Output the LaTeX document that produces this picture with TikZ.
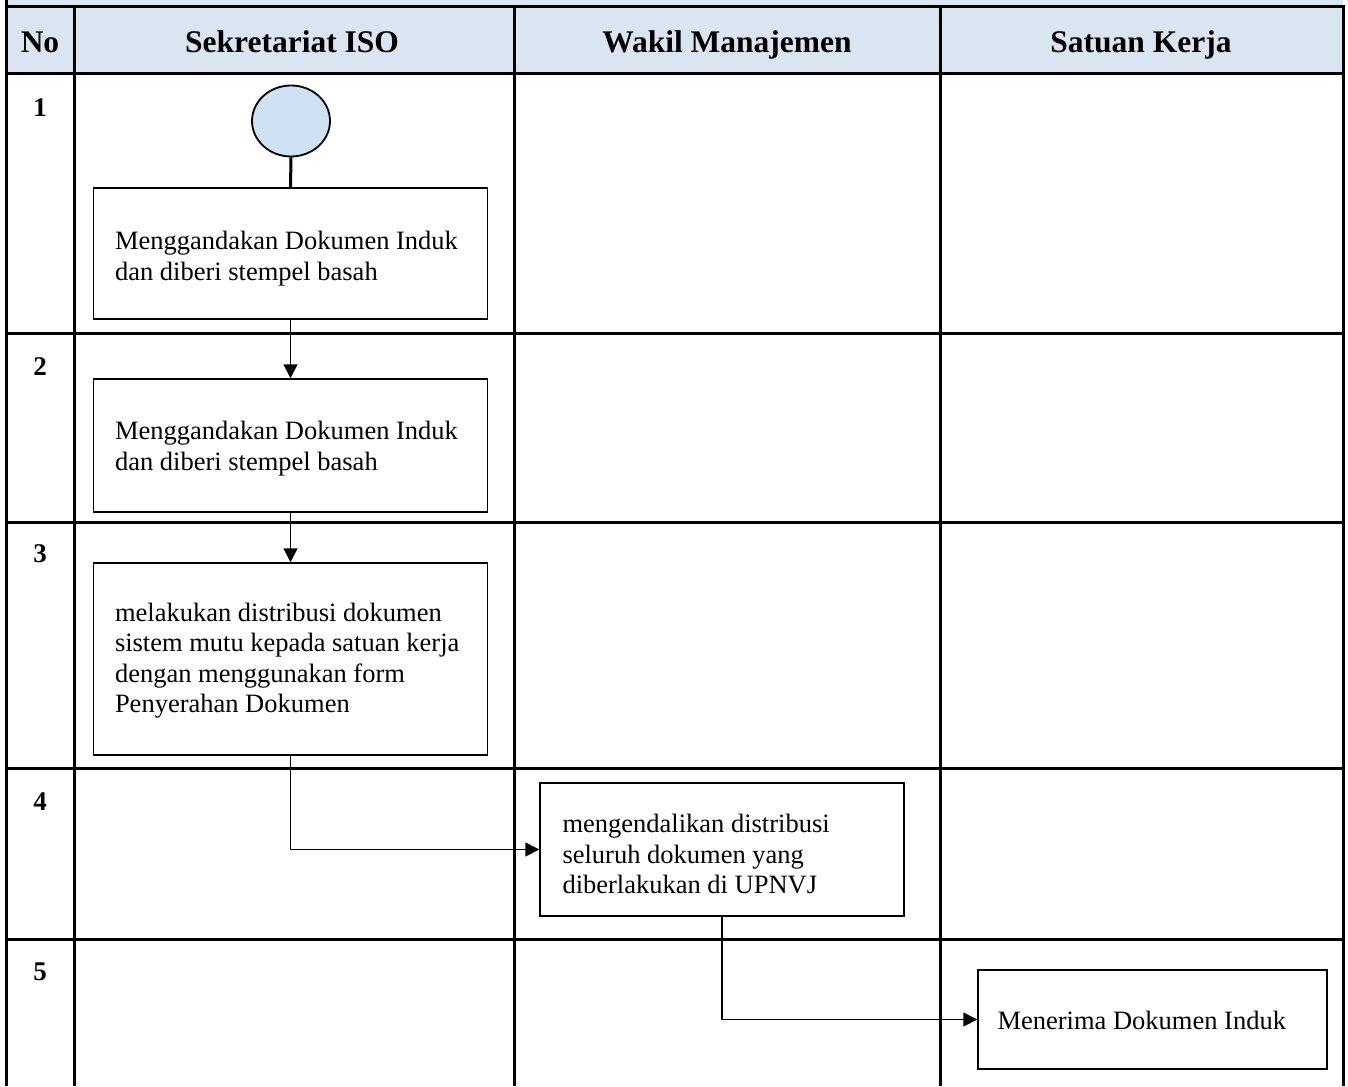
\documentclass[tikz,border=0pt]{standalone}
\usepackage{fontspec}
\setmainfont{Liberation Serif}
\usetikzlibrary{arrows.meta,shapes.geometric,calc}
\definecolor{headfill}{HTML}{DBE5F1}
\definecolor{startfill}{HTML}{CFE2F3}
\tikzset{
  grid/.style={line width=3pt},
  headtext/.style={font=\fontsize{31.5}{36}\selectfont\bfseries, anchor=base, inner sep=0pt},
  numtext/.style={font=\fontsize{27}{32}\selectfont\bfseries},
  stepbox/.style={draw, line width=1.4pt, rectangle, inner sep=0pt},
  boxtext/.style={anchor=west, inner sep=0pt, align=flush left,
    font=\fontsize{26.5}{30.5}\selectfont},
  startnode/.style={draw, ellipse, fill=startfill, line width=1.8pt,
    minimum width=78pt, minimum height=71pt, inner sep=0pt},
  flow/.style={line width=1.4pt, -{Triangle[length=14pt,width=14pt]}},
}
\begin{document}
\begin{tikzpicture}[x=1pt,y=-1pt]
\useasboundingbox (0,0) rectangle (1348,1086);
% header band
\fill[headfill] (6,0) rectangle (1343,74);
% table rules
\draw[grid] (4.5,7) -- (1344.5,7);
\foreach \y in {74,333,522,768,939}
  \draw[grid] (4.5,\y) -- (1344.5,\y);
\draw[grid] (6,0) -- (6,1086);
\draw[grid] (1343,7) -- (1343,1086);
\foreach \x in {74,514,940}
  \draw[grid] (\x,7) -- (\x,1086);
% header labels
\node[headtext] (hNo) at (40,53) {No};
\node[headtext] (hSek) at (292,53) {Sekretariat ISO};
\node[headtext] (hWak) at (727,53) {Wakil Manajemen};
\node[headtext] (hSat) at (1141,53) {Satuan Kerja};
% row numbers
\node[numtext] (n1) at (40,108) {1};
\node[numtext] (n2) at (40,367) {2};
\node[numtext] (n3) at (40,554) {3};
\node[numtext] (n4) at (40,802) {4};
\node[numtext] (n5) at (40,972) {5};
% process boxes
\node[startnode] (start) at (291,121) {};
\node[stepbox, minimum width=394pt, minimum height=131pt] (s1) at (290.5,253.5) {};
\node[stepbox, minimum width=394pt, minimum height=133pt] (s2) at (290.5,445.5) {};
\node[stepbox, minimum width=394pt, minimum height=192pt] (s3) at (290.5,659) {};
\node[stepbox, minimum width=364pt, minimum height=133pt] (s4) at (722,849.5) {};
\node[stepbox, minimum width=349pt, minimum height=99pt] (s5) at (1152.5,1019.5) {};
% box texts
\node[boxtext] (t1) at ($(s1.west)+(22,5)$) {Menggandakan Dokumen Induk\\dan diberi stempel basah};
\node[boxtext] (t2) at ($(s2.west)+(22,3)$) {Menggandakan Dokumen Induk\\dan diberi stempel basah};
\node[boxtext] (t3) at ($(s3.west)+(22,1.5)$) {melakukan distribusi dokumen\\sistem mutu kepada satuan kerja\\dengan menggunakan form\\Penyerahan Dokumen};
\node[boxtext] (t4) at ($(s4.west)+(23,4.5)$) {mengendalikan distribusi\\seluruh dokumen yang\\diberlakukan di UPNVJ};
\node[boxtext] (t5) at ($(s5.west)+(20,0.5)$) {Menerima Dokumen Induk};
% connectors
\draw[line width=3pt] (start.south) -- (s1.north);
\draw[flow] (s1.south) -- (s2.north);
\draw[flow] (s2.south) -- (s3.north);
\draw[flow] (s3.south) |- (s4.west);
\draw[flow] (s4.south) |- (s5.west);
\end{tikzpicture}
\end{document}
